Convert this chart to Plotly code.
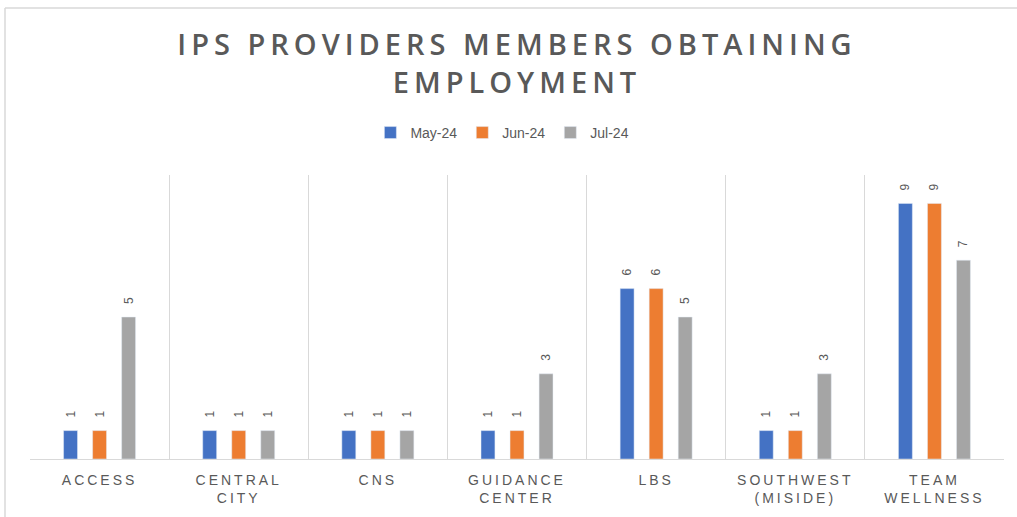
import plotly.graph_objects as go

categories = ["ACCESS", "CENTRAL<br>CITY", "CNS", "GUIDANCE<br>CENTER", "LBS",
              "SOUTHWEST<br>(MISIDE)", "TEAM<br>WELLNESS"]
series_names = ["May-24", "Jun-24", "Jul-24"]
may_24 = [1, 1, 1, 1, 6, 1, 9]
jun_24 = [1, 1, 1, 1, 6, 1, 9]
jul_24 = [5, 1, 1, 3, 5, 3, 7]
colors = ["#4472C4", "#ED7D31", "#A5A5A5"]

NB = "\u00a0"
fig = go.Figure()
for name, vals, col in zip(series_names, [may_24, jun_24, jul_24], colors):
    fig.add_trace(go.Bar(
        x=categories, y=vals, name=name, marker_color=col,
        text=[NB * 3 + str(v) for v in vals], textposition="outside", textangle=-90,
        textfont=dict(size=12, color="#595959", family="Liberation Sans"),
        constraintext="none", cliponaxis=False,
    ))

# plot area spans x 30..1004 px, y 175..459 px
W, H = 974, 284
fig.update_layout(
    width=1017, height=517,
    paper_bgcolor="white", plot_bgcolor="white",
    margin=dict(l=30, r=13, t=175, b=58),
    barmode="group", bargap=0.374, bargroupgap=0.52,
    title=dict(text="IPS PROVIDERS MEMBERS OBTAINING<br>EMPLOYMENT",
               x=0.5, xref="paper", y=0.893, yanchor="middle",
               font=dict(family="Open Sans", size=29, color="#595959", weight=600)),
    legend=dict(orientation="h", x=0.485, xanchor="center", y=1.148, yanchor="middle",
                font=dict(family="Liberation Sans", size=14, color="#595959"),
                itemwidth=30, traceorder="normal"),
    shapes=[
        dict(type="line", xref="paper", yref="paper",
             x0=-25 / W, x1=-25 / W, y0=-58 / H, y1=(459 - 8) / H,
             line=dict(color="#d9d9d9", width=1.5)),
        dict(type="line", xref="paper", yref="paper",
             x0=-25 / W, x1=(1017 - 30) / W, y0=(459 - 8) / H, y1=(459 - 8) / H,
             line=dict(color="#d9d9d9", width=1.5)),
    ],
)
fig.update_xaxes(showgrid=True, gridcolor="#d9d9d9", gridwidth=1, tickson="boundaries",
                 ticks="", showline=True, linecolor="#d9d9d9", linewidth=1,
                 ticklabelstandoff=8,
                 tickfont=dict(family="Liberation Sans", size=14, color="#595959"))
fig.update_yaxes(range=[0, 10], visible=False, showgrid=False)

post = """
var s=document.createElement('style');
s.innerHTML='body{margin:0}.xtick text{letter-spacing:3px}.gtitle{letter-spacing:5px}';
document.head.appendChild(s);
"""
fig.write_html("out.html", post_script=post, config={"displayModeBar": False})
